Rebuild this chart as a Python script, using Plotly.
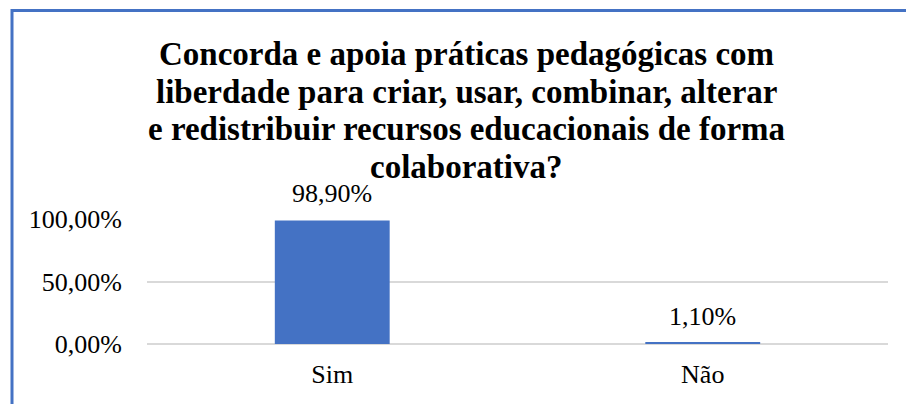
import plotly.graph_objects as go

categories = ["Sim", "Não"]
values = [98.90, 1.10]
value_labels = ["98,90%", "1,10%"]
tick_vals = [0, 50, 100]
tick_text = ["0,00%", "50,00%", "100,00%"]
title_lines = [
    "Concorda e apoia práticas pedagógicas com",
    "liberdade para criar, usar, combinar, alterar",
    "e redistribuir recursos educacionais de forma",
    "colaborativa?",
]

W, H = 906, 404
ML, MR, MT, MB = 147, 18, 219, 60
pw = W - ML - MR
ph = H - MT - MB

def px_x(p):
    return (p - ML) / pw

def px_y(p):
    return (H - MB - p) / ph

FONT = "Liberation Serif, Times New Roman, Tinos, FreeSerif, Nimbus Roman, DejaVu Serif, serif"
TSIZE = 33
LSIZE = 26

fig = go.Figure(go.Bar(
    x=categories, y=values,
    marker=dict(color="#4472C4", line=dict(width=0)),
    width=0.31, hoverinfo="skip",
))

anns = []
for i, line in enumerate(title_lines):
    anns.append(dict(text=line, xref="paper", yref="paper",
                     x=px_x(466), y=px_y(54 + i * 37.5),
                     xanchor="center", yanchor="middle", showarrow=False,
                     font=dict(family=FONT, size=TSIZE, color="#000000", weight="bold")))
for c, v, t in zip(categories, values, value_labels):
    anns.append(dict(text=t, x=c, y=v, xref="x", yref="y", xanchor="center",
                     yanchor="bottom", yshift=10, showarrow=False,
                     font=dict(family=FONT, size=LSIZE, color="#000000")))

fig.update_layout(
    width=W, height=H,
    margin=dict(l=ML, r=MR, t=MT, b=MB),
    paper_bgcolor="white", plot_bgcolor="white",
    font=dict(family=FONT, size=LSIZE, color="#000000"),
    showlegend=False,
    annotations=anns,
    xaxis=dict(showgrid=False, showline=False, ticks="",
               tickfont=dict(family=FONT, size=LSIZE), ticklabelstandoff=12),
    yaxis=dict(range=[0, 100], tickvals=tick_vals, ticktext=tick_text,
               showgrid=True, gridcolor="#D9D9D9", gridwidth=1.5,
               zeroline=True, zerolinecolor="#D9D9D9", zerolinewidth=1.5,
               showline=False, ticks="", tickfont=dict(family=FONT, size=LSIZE),
               ticklabelstandoff=24),
    shapes=[dict(type="path", xref="paper", yref="paper",
                 path=f"M {px_x(12)} {px_y(420)} L {px_x(12)} {px_y(10.5)} L {px_x(920)} {px_y(10.5)}",
                 line=dict(color="#4472C4", width=3))],
)

fig.write_html("out.html", config={"displayModeBar": False},
               post_script="document.body.style.margin='0';document.body.style.overflow='hidden';")
